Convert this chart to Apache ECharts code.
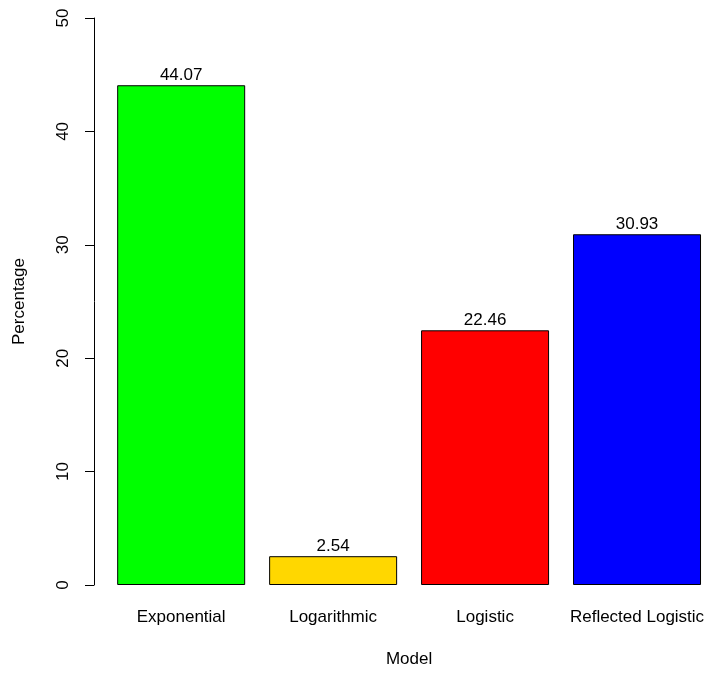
<!DOCTYPE html>
<html>
<head>
<meta charset="utf-8">
<script src="https://cdn.jsdelivr.net/npm/echarts@6/dist/echarts.min.js"></script>
<style>
  html, body { margin: 0; padding: 0; background: #ffffff; }
  #chart { width: 713px; height: 673px; }
</style>
</head>
<body>
<div id="chart"></div>
<script>
// Share of series best described by each growth model
const models = ['Exponential', 'Logarithmic', 'Logistic', 'Reflected Logistic'];
const percentages = [44.07, 2.54, 22.46, 30.93];
const barColors = ['#00FF00', '#FFD700', '#FF0000', '#0000FF'];
const yTicks = [0, 10, 20, 30, 40, 50];

const FONT = 'Liberation Sans, Arial, Helvetica, sans-serif';
const FS = 17;
const chart = echarts.init(document.getElementById('chart'), null, { renderer: 'canvas' });

chart.setOption({
  backgroundColor: '#ffffff',
  animation: false,
  textStyle: { fontFamily: FONT, color: '#000' },
  grid: { left: 105.2, width: 613.4, top: 18, height: 570 },
  xAxis: {
    type: 'category',
    data: models,
    name: 'Model',
    nameLocation: 'middle',
    nameGap: 66,
    nameTextStyle: { fontFamily: FONT, fontSize: FS, color: '#000' },
    axisLine: { show: false },
    axisTick: { show: false },
    axisLabel: { fontFamily: FONT, fontSize: FS, color: '#000', margin: 24, interval: 0 }
  },
  yAxis: {
    type: 'value',
    min: yTicks[0],
    max: yTicks[yTicks.length - 1],
    interval: 10,
    offset: 11.2,
    name: 'Percentage',
    nameLocation: 'middle',
    nameRotate: 90,
    nameGap: 66,
    nameTextStyle: { fontFamily: FONT, fontSize: FS, color: '#000' },
    splitLine: { show: false },
    axisLine: { show: true, lineStyle: { color: '#000', width: 1 } },
    axisTick: { show: true, length: 9, lineStyle: { color: '#000', width: 1 } },
    axisLabel: { fontFamily: FONT, fontSize: FS, color: '#000', rotate: 90, margin: 22 }
  },
  series: [{
    type: 'bar',
    barWidth: 128,
    data: percentages.map((v, i) => ({
      value: v,
      itemStyle: { color: barColors[i], borderColor: '#000', borderWidth: 1 }
    })),
    label: {
      show: true,
      position: 'top',
      distance: 1,
      fontFamily: FONT,
      fontSize: FS,
      color: '#000',
      formatter: p => p.value.toFixed(2)
    }
  }]
});
</script>
</body>
</html>
